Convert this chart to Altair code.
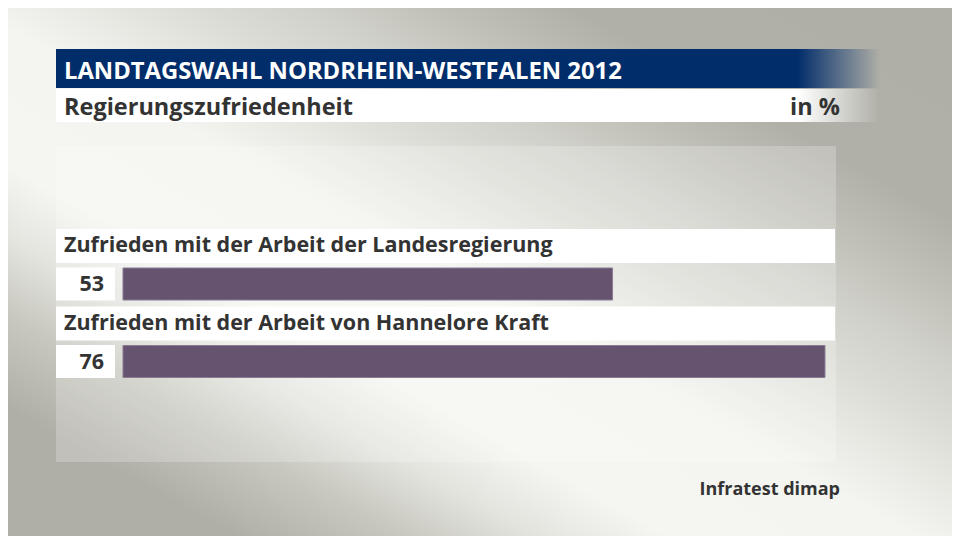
import altair as alt
import pandas as pd

# ---- data ----
categories = [
    "Zufrieden mit der Arbeit der Landesregierung",
    "Zufrieden mit der Arbeit von Hannelore Kraft",
]
values = [53, 76]
title_text = "LANDTAGSWAHL NORDRHEIN-WESTFALEN 2012"
subtitle_text = "Regierungszufriedenheit"
unit_text = "in %"
source_text = "Infratest dimap"

df = pd.DataFrame({"category": categories, "value": values, "zero": [0, 0]})
one = pd.DataFrame({"a": [0]})

FONT = "Open Sans"
W, H = 944, 528

xs = alt.Scale(domain=[-12.45, 89.75], nice=False, zero=False)
ys = alt.Scale(type="point", domain=categories, range=[276, 353.5], padding=0)

def stop(o, c):
    return alt.GradientStop(offset=o, color=c)

# background diagonal gradient (dark top-right and bottom-left, light band in between)
bg = alt.Chart(one).mark_rect(
    fill=alt.LinearGradient(
        gradient="linear", x1=0, y1=1, x2=1, y2=0,
        stops=[
            stop(0.0, "#afafa7"),
            stop(0.12, "#b0afa7"),
            stop(0.21, "#c8c8c0"),
            stop(0.28, "#e3e4de"),
            stop(0.35, "#f5f6f1"),
            stop(0.48, "#f4f5f0"),
            stop(0.55, "#e6e7e1"),
            stop(0.60, "#dcdcd6"),
            stop(0.66, "#d1d1cb"),
            stop(0.72, "#c2c2ba"),
            stop(0.80, "#b1b0a8"),
            stop(1.0, "#afafa7"),
        ],
    )
).encode(x=alt.value(0), x2=alt.value(W), y=alt.value(0), y2=alt.value(H))

panel = alt.Chart(one).mark_rect(fill="#ffffff", opacity=0.22).encode(
    x=alt.value(48), x2=alt.value(828), y=alt.value(138), y2=alt.value(454)
)

title_bar = alt.Chart(one).mark_rect(
    fill=alt.LinearGradient(
        gradient="linear", x1=0, y1=0, x2=1, y2=0,
        stops=[stop(0, "#022d6b"), stop(0.9, "#022d6b"), stop(1, "#afafa7")],
    )
).encode(x=alt.value(48), x2=alt.value(872), y=alt.value(41), y2=alt.value(80))

sub_bar = alt.Chart(one).mark_rect(
    fill=alt.LinearGradient(
        gradient="linear", x1=0, y1=0, x2=1, y2=0,
        stops=[stop(0, "#ffffff"), stop(0.9, "#ffffff"), stop(1, "#afafa7")],
    )
).encode(x=alt.value(48), x2=alt.value(872), y=alt.value(81), y2=alt.value(114))

title = alt.Chart(one).mark_text(
    text=title_text, font=FONT, fontSize=23.8, fontWeight="bold", color="#ffffff",
    align="left", baseline="alphabetic",
).encode(x=alt.value(56), y=alt.value(71))

subtitle = alt.Chart(one).mark_text(
    text=subtitle_text, font=FONT, fontSize=23.5, fontWeight="bold", color="#333333",
    align="left", baseline="alphabetic",
).encode(x=alt.value(56), y=alt.value(107))

unit = alt.Chart(one).mark_text(
    text=unit_text, font=FONT, fontSize=23.5, fontWeight="bold", color="#333333",
    align="right", baseline="alphabetic",
).encode(x=alt.value(832), y=alt.value(107))

source = alt.Chart(one).mark_text(
    text=source_text, font=FONT, fontSize=18, fontWeight="bold", color="#333333",
    align="right", baseline="alphabetic",
).encode(x=alt.value(832), y=alt.value(487))

base = alt.Chart(df)

label_bg = base.mark_bar(color="#ffffff", size=34, yOffset=-38).encode(
    y=alt.Y("category:N", scale=ys, axis=None),
    x=alt.value(48), x2=alt.value(827),
)

num_bg = base.mark_bar(color="#ffffff", size=33).encode(
    y=alt.Y("category:N", scale=ys, axis=None),
    x=alt.value(48), x2=alt.value(107),
)

bars = base.mark_bar(color="#65536f", size=32, stroke="#8a7b93", strokeWidth=1).encode(
    y=alt.Y("category:N", scale=ys, axis=None),
    x=alt.X("zero:Q", scale=xs, axis=None),
    x2=alt.X2("value:Q"),
)

nums = base.mark_text(
    font=FONT, fontSize=21.5, fontWeight="bold", color="#333333",
    align="right", baseline="middle", dy=1,
).encode(
    y=alt.Y("category:N", scale=ys, axis=None),
    x=alt.value(96),
    text=alt.Text("value:Q"),
)

cat_text = base.mark_text(
    font=FONT, fontSize=21.5, fontWeight="bold", color="#333333",
    align="left", baseline="middle", yOffset=-38,
).encode(
    y=alt.Y("category:N", scale=ys, axis=None),
    x=alt.value(56),
    text="category:N",
)

chart = alt.layer(
    bg, panel, title_bar, sub_bar, title, subtitle, unit, source,
    label_bg, num_bg, bars, nums, cat_text,
).properties(
    width=W, height=H, autosize="none", padding=0,
).configure_view(stroke=None).configure(background="#c9c8c2")

chart.save("out.html", embed_options={"renderer": "svg", "actions": False})
